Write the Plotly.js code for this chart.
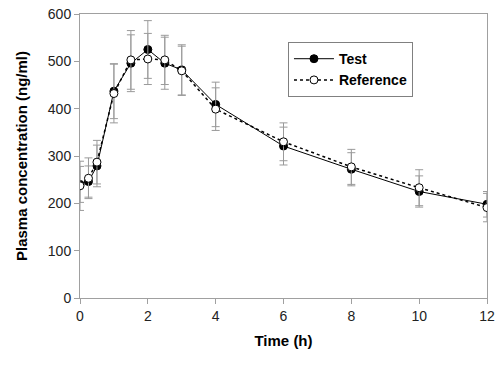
<!DOCTYPE html>
<html>
<head>
<meta charset="utf-8">
<script src="https://cdn.plot.ly/plotly-3.0.1.min.js"></script>
<style>body{margin:0;background:#fff}#chart{width:500px;height:367px}</style>
</head>
<body>
<div id="chart"></div>
<script>
const time = [0, 0.25, 0.5, 1, 1.5, 2, 2.5, 3, 4, 6, 8, 10, 12];
const testMean = [240, 246, 279, 437, 496, 525, 496, 482, 409, 321, 272, 225, 198];
const testSD   = [38, 33, 44, 58, 60, 61, 55, 53, 47, 40, 35, 33, 27];
const refMean  = [237, 253, 287, 432, 503, 505, 503, 480, 399, 330, 277, 233, 191];
const refSD    = [52, 43, 46, 62, 62, 54, 52, 52, 45, 40, 37, 38, 30];
const xTicks = [0, 2, 4, 6, 8, 10, 12];
const yTicks = [0, 100, 200, 300, 400, 500, 600];

const errStyle = {type: 'data', visible: true, color: '#9a9a9a', thickness: 1, width: 4};

const traces = [
  {
    x: time, y: testMean, name: 'Test', mode: 'lines+markers',
    line: {color: '#000', width: 1},
    marker: {symbol: 'circle', size: 8, color: '#000', line: {color: '#000', width: 1}},
    error_y: Object.assign({array: testSD}, errStyle)
  },
  {
    x: time, y: refMean, name: 'Reference', mode: 'lines+markers',
    line: {color: '#000', width: 1.5, dash: 'dot'},
    marker: {symbol: 'circle', size: 8, color: '#fff', line: {color: '#000', width: 1}},
    error_y: Object.assign({array: refSD}, errStyle)
  }
];

const layout = {
  width: 500, height: 367,
  margin: {l: 80, r: 13, t: 14, b: 69},
  paper_bgcolor: '#fff', plot_bgcolor: '#fff',
  font: {family: 'Liberation Sans, Arial, sans-serif', size: 14, color: '#000'},
  showlegend: true,
  legend: {
    x: 0.511, y: 0.901, xanchor: 'left', yanchor: 'top',
    bordercolor: '#808080', borderwidth: 1, bgcolor: '#fff',
    font: {family: 'Liberation Sans, Arial, sans-serif', size: 14, color: '#000', weight: 'bold'},
    itemwidth: 40, tracegroupgap: 0
  },
  xaxis: {
    range: [0, 12], tickvals: xTicks, ticktext: xTicks.map(String),
    showgrid: false, zeroline: false,
    showline: true, linecolor: '#a0a0a0', linewidth: 1, mirror: true,
    ticks: 'outside', ticklen: 5, tickcolor: '#a0a0a0',
    tickfont: {size: 14, color: '#222'},
    title: {text: '<b>Time (h)</b>', font: {size: 15, color: '#000'}, standoff: 12}
  },
  yaxis: {
    range: [0, 600], tickvals: yTicks, ticktext: yTicks.map(String),
    showgrid: false, zeroline: false,
    showline: true, linecolor: '#a0a0a0', linewidth: 1, mirror: true,
    ticks: 'outside', ticklen: 5, tickcolor: '#a0a0a0',
    tickfont: {size: 14, color: '#222'},
    title: {text: '<b>Plasma concentration (ng/ml)</b>', font: {size: 15, color: '#000'}, standoff: 16}
  }
};

Plotly.newPlot('chart', traces, layout, {displayModeBar: false, staticPlot: true});
</script>
</body>
</html>
